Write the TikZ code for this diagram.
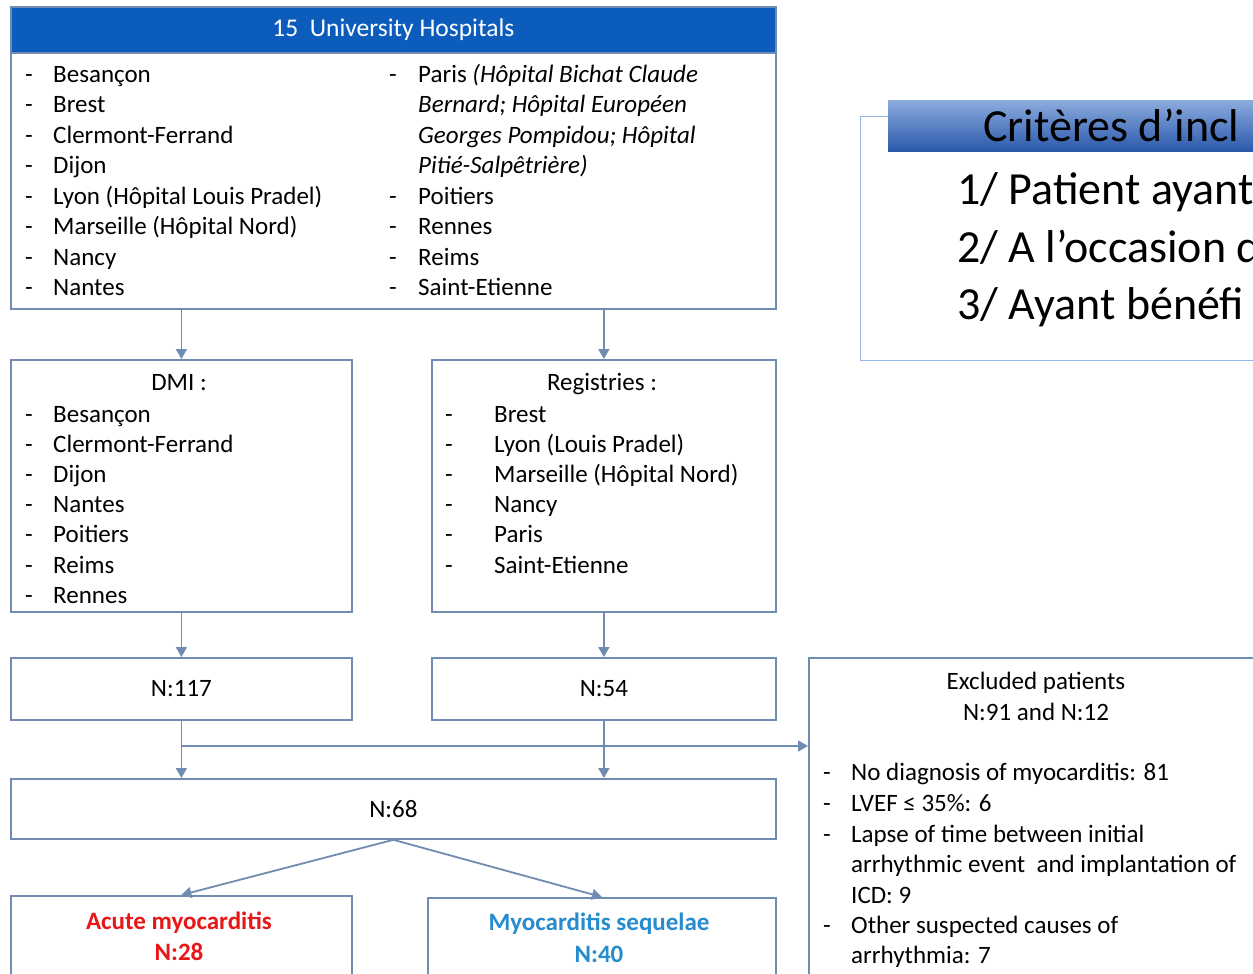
\documentclass[tikz,border=0pt]{standalone}
\usepackage{fontspec}
\setmainfont{Carlito}
\usetikzlibrary{arrows.meta}
\definecolor{boxline}{RGB}{112,140,176}
\definecolor{hdrblue}{RGB}{12,92,188}
\definecolor{acutered}{RGB}{232,22,22}
\definecolor{seqblue}{RGB}{38,140,205}
\definecolor{critline}{RGB}{150,182,228}
\definecolor{crittop}{RGB}{140,172,222}
\definecolor{critbot}{RGB}{42,88,170}

\begin{document}
\begin{tikzpicture}[x=1pt,y=-1pt,
  box/.style={draw=boxline,line width=1.8pt,anchor=north west,inner sep=0pt,font=\fontsize{25}{30}\selectfont},
  txt/.style={anchor=base west,inner sep=0pt,font=\fontsize{25}{30}\selectfont},
  ctxt/.style={anchor=base,inner sep=0pt,font=\fontsize{25}{30}\selectfont},
  big/.style={anchor=base west,inner sep=0pt,font=\fontsize{46}{55}\selectfont},
  arr/.style={draw=boxline,line width=1.8pt,-{Triangle[length=10pt,width=11pt]}}]
  \useasboundingbox (0,0) rectangle (1253,974);
  \clip (0,0) rectangle (1253,974);
  \fill[white] (0,0) rectangle (1253,974);

  \node[box,minimum width=765pt,minimum height=302pt] (univ) at (10,6) {};
  \node[box,fill=hdrblue,text=white,minimum width=765pt,minimum height=46pt,font=\fontsize{25.5}{30}\selectfont] (univhead) at (10,6) {15~ University Hospitals};
  \foreach \city [count=\i from 0] in {Besançon,Brest,Clermont-Ferrand,Dijon,Lyon (Hôpital Louis Pradel),Marseille (Hôpital Nord),Nancy,Nantes}{
    \node[txt] (uld\i) at (25,82+30.5*\i) {-};
    \node[txt] (ul\i) at (53,82+30.5*\i) {\city};
  }
  \node[txt] (urd0) at (389,82) {-};
  \node[txt] (ur0) at (418,82) {Paris \textit{(Hôpital Bichat Claude}};
  \node[txt] (ur1) at (418,112.5) {\textit{Bernard; Hôpital Européen}};
  \node[txt] (ur2) at (418,143) {\textit{Georges Pompidou; Hôpital}};
  \node[txt] (ur3) at (418,173.5) {\textit{Pitié-Salpêtrière)}};
  \foreach \city [count=\i from 4] in {Poitiers,Rennes,Reims,Saint-Etienne}{
    \node[txt] (urd\i) at (389,82+30.5*\i) {-};
    \node[txt] (ur\i) at (418,82+30.5*\i) {\city};
  }

  \node[box,minimum width=341pt,minimum height=252pt] (dmi) at (10,359) {};
  \node[ctxt] (dmit) at (179,390) {DMI :};
  \foreach \city [count=\i from 0] in {Besançon,Clermont-Ferrand,Dijon,Nantes,Poitiers,Reims,Rennes}{
    \node[txt] (dd\i) at (25,422+30.2*\i) {-};
    \node[txt] (dc\i) at (53,422+30.2*\i) {\city};
  }

  \node[box,minimum width=344pt,minimum height=252pt] (reg) at (431,359) {};
  \node[ctxt] (regt) at (602,390) {Registries :};
  \foreach \city [count=\i from 0] in {Brest,Lyon (Louis Pradel),Marseille (Hôpital Nord),Nancy,Paris,Saint-Etienne}{
    \node[txt] (rd\i) at (445,422+30.2*\i) {-};
    \node[txt] (rc\i) at (494,422+30.2*\i) {\city};
  }

  \node[box,minimum width=341pt,minimum height=62pt] (n117) at (10,657) {N:117};
  \node[box,minimum width=344pt,minimum height=62pt] (n54) at (431,657) {N:54};
  \node[box,minimum width=765pt,minimum height=60pt] (n68) at (10,778) {N:68};
  \node[box,minimum width=341pt,minimum height=120pt] (acute) at (10,895) {};
  \node[box,minimum width=348pt,minimum height=120pt] (seq) at (427,897) {};
  \node[ctxt,text=acutered,font=\fontsize{25}{30}\selectfont\bfseries] (acutet) at (179,929) {Acute myocarditis};
  \node[ctxt,text=acutered,font=\fontsize{25}{30}\selectfont\bfseries] (acuten) at (179,960) {N:28};
  \node[ctxt,text=seqblue,font=\fontsize{25}{30}\selectfont\bfseries] (seqt) at (599,930) {Myocarditis sequelae};
  \node[ctxt,text=seqblue,font=\fontsize{25}{30}\selectfont\bfseries] (seqn) at (599,962) {N:40};

  \node[box,minimum width=500pt,minimum height=400pt] (excl) at (808,657) {};
  \node[ctxt] (exclt) at (1036,689) {Excluded patients};
  \node[ctxt] (excln) at (1036,720.5) {N:91 and N:12};
  \node[txt] (ed0) at (823,780) {-};
  \node[txt] (e0) at (851,780) {No diagnosis of myocarditis: 81};
  \node[txt] (ed1) at (823,811) {-};
  \node[txt] (e1) at (851,811) {LVEF ≤ 35\%: 6};
  \node[txt] (ed2) at (823,842) {-};
  \node[txt] (e2) at (851,842) {Lapse of time between initial};
  \node[txt] (e3) at (851,872.5) {arrhythmic event~ and implantation of};
  \node[txt] (e4) at (851,903) {ICD: 9};
  \node[txt] (ed5) at (823,933) {-};
  \node[txt] (e5) at (851,933) {Other suspected causes of};
  \node[txt] (e6) at (851,963.5) {arrhythmia: 7};

  \node[box,draw=critline,line width=1pt,minimum width=450pt,minimum height=244pt] (crit) at (860,116) {};
  \node[anchor=north west,inner sep=0pt,minimum width=420pt,minimum height=51pt,top color=crittop,bottom color=critbot] (crithead) at (888,100) {};
  \node[big] (critt) at (983,141) {Critères d’incl};
  \node[big] (crit1) at (957,204) {1/ Patient ayant};
  \node[big] (crit2) at (957,262) {2/ A l’occasion d};
  \node[big] (crit3) at (957,319) {3/ Ayant bénéfi};

  \coordinate (split) at (180.5,746);
  \draw[arr] (dmi.north |- univ.south) -- (dmi.north);
  \draw[arr] (reg.north |- univ.south) -- (reg.north);
  \draw[arr] (dmi.south) -- (n117.north);
  \draw[arr] (reg.south) -- (n54.north);
  \draw[arr] (n117.south) -- (n117.south |- n68.north);
  \draw[arr] (n54.south) -- (n54.south |- n68.north);
  \draw[arr] (split) -- (excl.west |- split);
  \draw[arr] (n68.south) -- (acute.north);
  \draw[arr] (n68.south) -- (seq.north);
\end{tikzpicture}
\end{document}
